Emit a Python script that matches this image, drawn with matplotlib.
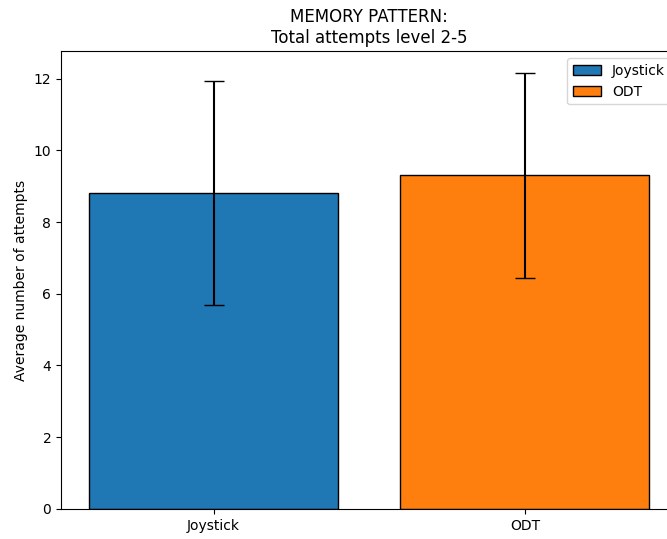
import matplotlib
matplotlib.use("Agg")
import matplotlib.pyplot as plt

# Valores
categorias = ["Joystick", "ODT"]
medias = [8.80, 9.30]
desvios = [3.12, 2.85]
cores = ["#1f77b4", "#ff7f0e"]

fig = plt.figure(figsize=(6.67, 5.39), dpi=100)
# o eixo original ultrapassa a margem direita da imagem
ax = fig.add_axes([0.0915, 0.0557, 0.924, 0.849])

for i, (cat, m, d, c) in enumerate(zip(categorias, medias, desvios, cores)):
    ax.bar(i, m, yerr=d, color=c, edgecolor="black", capsize=7, label=cat, width=0.8)

ax.set_xticks(range(len(categorias)))
ax.set_xticklabels(categorias)
ax.set_ylabel("Average number of attempts")
ax.set_title("MEMORY PATTERN:\nTotal attempts level 2-5")
ax.legend(loc="upper right")

fig.savefig("out.png", dpi=100)
